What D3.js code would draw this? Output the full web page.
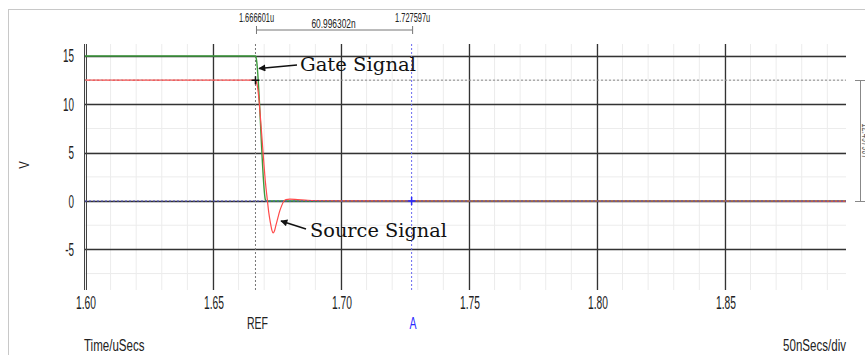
<!DOCTYPE html>
<html>
<head>
<meta charset="utf-8">
<script src="https://cdn.jsdelivr.net/npm/d3@7"></script>
<style>
    body { margin: 0; background: #fff; }
    svg { display: block; }
    .lbl { font-family: "Liberation Sans", Arial, sans-serif; fill: #222; }
    .note { font-family: "DejaVu Serif", "Liberation Serif", serif; fill: #111; }
</style>
</head>
<body>
<div id="chart"></div>
<script>
// time in uSecs, voltage in V
let xTicks = [1.60, 1.65, 1.70, 1.75, 1.80, 1.85];
let yTicks = [15, 10, 5, 0, -5];
let xMinorTicks = d3.range(0, 30).map(i => 1.60 + i * 0.01);
let yMinorTicks = [15, 12.5, 10, 7.5, 5, 2.5, 0, -2.5, -5, -7.5];

let gateTime = [1.600, 1.6667, 1.6670, 1.6705, 1.6708, 1.8973];
let gateVolt = [15, 15, 14.6, 0.1, 0, 0];

let sourceTime = [1.600, 1.6666, 1.6670, 1.6675, 1.6680, 1.6686, 1.6692, 1.6698, 1.6705, 1.6712, 1.6718,
    1.6724, 1.6730, 1.6735, 1.6740, 1.6746, 1.6753, 1.6760, 1.6768, 1.6776, 1.6785, 1.6800, 1.6830,
    1.6870, 1.6950, 1.7100, 1.8973];
let sourceVolt = [12.5, 12.5, 12.3, 11.6, 10.4, 8.4, 6.3, 4.2, 1.9, 0.2, -1.2,
    -2.2, -3.0, -3.3, -3.1, -2.5, -1.8, -1.1, -0.5, -0.05, 0.15, 0.2, 0.15,
    0.08, 0.03, 0.01, 0];

let refCursor = {t: 1.666601, v: 12.5, label: '1.666601u'};
let aCursor = {t: 1.727597, v: 0, label: '1.727597u'};
let deltaLabel = '60.996302n';
let deltaVLabel = '12.497967';

let width = 865, height = 355;
let margin = {top: 44, right: 19, bottom: 65, left: 85};

let svg = d3.select('#chart').append('svg')
    .attr('width', width)
    .attr('height', height);

// outer frame
svg.append('rect')
    .attr('x', 8.5).attr('y', 9.5)
    .attr('width', 900).attr('height', 400)
    .attr('fill', 'none').attr('stroke', '#c8c8c8');

let x = d3.scaleLinear().domain([1.60, 1.8973]).range([margin.left, width - margin.right]);
let y = d3.scaleLinear().domain([-9.2, 16.24]).range([height - margin.bottom, margin.top]);

let plotTop = margin.top, plotBottom = height - margin.bottom;
let plotLeft = margin.left, plotRight = width - margin.right;

// narrow label: text squeezed horizontally around its anchor
function label(px, py, str, size, anchor, sx, color, rotate) {
    let t = svg.append('text')
        .attr('class', 'lbl')
        .attr('transform', `translate(${px},${py})` + (rotate ? ` rotate(${rotate})` : '') + ` scale(${sx},1)`)
        .attr('text-anchor', anchor)
        .attr('font-size', size)
        .text(str);
    if (color) t.style('fill', color);
    return t;
}

// minor grid
svg.append('g').selectAll('line')
    .data(xMinorTicks)
    .enter().append('line')
    .attr('x1', d => x(d)).attr('x2', d => x(d))
    .attr('y1', plotTop).attr('y2', plotBottom)
    .attr('stroke', '#ececec');
svg.append('g').selectAll('line')
    .data(yMinorTicks)
    .enter().append('line')
    .attr('x1', plotLeft).attr('x2', plotRight)
    .attr('y1', d => y(d)).attr('y2', d => y(d))
    .attr('stroke', '#ececec');

// major grid
svg.append('g').selectAll('line')
    .data(xTicks.slice(1))
    .enter().append('line')
    .attr('x1', d => Math.round(x(d)) + 0.5).attr('x2', d => Math.round(x(d)) + 0.5)
    .attr('y1', plotTop).attr('y2', plotBottom)
    .attr('stroke', '#333').attr('stroke-width', 1.3);
svg.append('g').selectAll('line')
    .data(yTicks)
    .enter().append('line')
    .attr('x1', plotLeft).attr('x2', plotRight)
    .attr('y1', d => Math.round(y(d)) + 0.5).attr('y2', d => Math.round(y(d)) + 0.5)
    .attr('stroke', '#333').attr('stroke-width', 1.3);

// left axis: double line
[-1, 1].forEach(off => {
    svg.append('line')
        .attr('x1', plotLeft + off + 0.5).attr('x2', plotLeft + off + 0.5)
        .attr('y1', plotTop).attr('y2', plotBottom)
        .attr('stroke', '#444').attr('stroke-width', 1);
});

// tick labels
yTicks.forEach(d => label(74, y(d) + 6.5, d, 18, 'end', 0.55));
xTicks.forEach(d => label(x(d) + 1, 308.5, d3.format('.2f')(d), 18, 'middle', 0.57));

label(29, 165, 'V', 15, 'middle', 0.75, null, -90);
label(84, 351, 'Time/uSecs', 16.5, 'start', 0.7);
label(846, 351, '50nSecs/div', 16.5, 'end', 0.7);

// cursor reference lines
svg.append('line')
    .attr('x1', plotLeft).attr('x2', plotRight)
    .attr('y1', y(refCursor.v)).attr('y2', y(refCursor.v))
    .attr('stroke', '#888').attr('stroke-dasharray', '2,2');
svg.append('line')
    .attr('x1', x(refCursor.t)).attr('x2', x(refCursor.t))
    .attr('y1', plotTop).attr('y2', plotBottom)
    .attr('stroke', '#777').attr('stroke-dasharray', '2,2');
svg.append('line')
    .attr('x1', x(aCursor.t)).attr('x2', x(aCursor.t))
    .attr('y1', plotTop).attr('y2', plotBottom)
    .attr('stroke', '#6a6af0').attr('stroke-dasharray', '2,2');

// traces
let line = d3.line()
    .x(d => x(d[0]))
    .y(d => y(d[1]))
    .curve(d3.curveMonotoneX);

svg.append('path')
    .datum(d3.zip(gateTime, gateVolt))
    .attr('d', line)
    .attr('fill', 'none')
    .attr('stroke', '#3c9a3c').attr('stroke-width', 1.4);
svg.append('path')
    .datum(d3.zip(sourceTime, sourceVolt))
    .attr('d', line)
    .attr('fill', 'none')
    .attr('stroke', '#ff4a4a').attr('stroke-width', 1.2);

// dotted over the traces
svg.append('line')
    .attr('x1', plotLeft).attr('x2', plotRight)
    .attr('y1', y(aCursor.v)).attr('y2', y(aCursor.v))
    .attr('stroke', '#5050c8').attr('stroke-dasharray', '2,2');
svg.append('line')
    .attr('x1', plotLeft).attr('x2', x(refCursor.t))
    .attr('y1', y(refCursor.v)).attr('y2', y(refCursor.v))
    .attr('stroke', '#bbb').attr('stroke-dasharray', '2,3').attr('stroke-opacity', 0.6);

// cursor crosses
function cross(cx, cy, color) {
    svg.append('path')
        .attr('d', `M${cx - 4},${cy}H${cx + 4}M${cx},${cy - 4}V${cy + 4}`)
        .attr('stroke', color).attr('stroke-width', 1.5);
}
cross(x(refCursor.t), y(refCursor.v), '#111');
cross(x(aCursor.t), y(aCursor.v), '#2a2aff');

label(x(refCursor.t) + 2, 328.5, 'REF', 17, 'middle', 0.62);
label(x(aCursor.t) + 1.5, 328.5, 'A', 17, 'middle', 0.62, '#2a2aff');

// time measurement on top
let mx1 = x(refCursor.t) + 1, mx2 = x(aCursor.t) + 1;
svg.append('path')
    .attr('d', `M${mx1},34V26M${mx1},30H${mx2}M${mx2},26V34`)
    .attr('fill', 'none').attr('stroke', '#777');
label(mx1, 21.5, refCursor.label, 12, 'middle', 0.62);
label(mx2, 21.5, aCursor.label, 12, 'middle', 0.62);
label((mx1 + mx2) / 2 - 1, 27.5, deltaLabel, 12, 'middle', 0.7);

// voltage measurement on the right
let vy1 = Math.round(y(refCursor.v)) + 0.5, vy2 = Math.round(y(aCursor.v)) + 0.5;
svg.append('path')
    .attr('d', `M855,${vy1}H866M860.5,${vy1}V${vy2}M855,${vy2}H866`)
    .attr('fill', 'none').attr('stroke', '#888');
label(862, (vy1 + vy2) / 2, deltaVLabel, 12, 'middle', 0.62, '#666', 90);

// annotations
svg.append('defs').append('marker')
    .attr('id', 'arrow')
    .attr('viewBox', '0 0 10 10')
    .attr('refX', 9).attr('refY', 5)
    .attr('markerWidth', 9).attr('markerHeight', 7)
    .attr('markerUnits', 'userSpaceOnUse')
    .attr('orient', 'auto')
    .append('path').attr('d', 'M0,0L10,5L0,10z').attr('fill', '#111');

svg.append('line')
    .attr('x1', 297).attr('y1', 65).attr('x2', 259).attr('y2', 68.5)
    .attr('stroke', '#111').attr('stroke-width', 1.5)
    .attr('marker-end', 'url(#arrow)');
svg.append('text').attr('class', 'note')
    .attr('x', 300).attr('y', 71).attr('font-size', 18)
    .attr('textLength', 116).attr('lengthAdjust', 'spacingAndGlyphs')
    .text('Gate Signal');

svg.append('line')
    .attr('x1', 306).attr('y1', 229).attr('x2', 281).attr('y2', 221)
    .attr('stroke', '#111').attr('stroke-width', 1.5)
    .attr('marker-end', 'url(#arrow)');
svg.append('text').attr('class', 'note')
    .attr('x', 310).attr('y', 237).attr('font-size', 18)
    .attr('textLength', 137).attr('lengthAdjust', 'spacingAndGlyphs')
    .text('Source Signal');
</script>
</body>
</html>
